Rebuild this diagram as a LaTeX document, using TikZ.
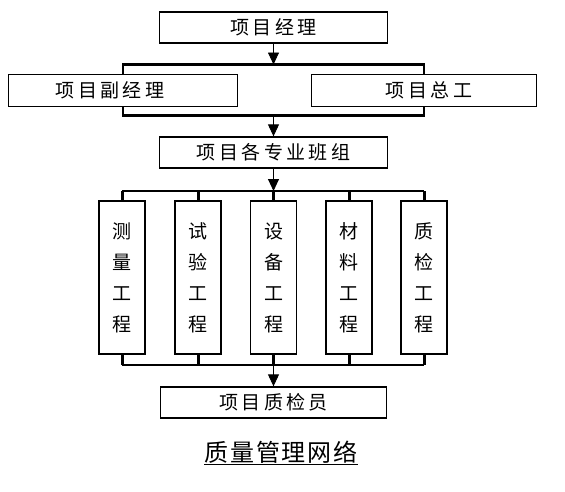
\documentclass[tikz,border=0pt]{standalone}
\usepackage{fontspec}
\newfontfamily\cjk[LetterSpace=18]{Noto Sans CJK SC}
\newfontfamily\cjkv{Noto Sans CJK SC}
\newfontfamily\cjkt[LetterSpace=8]{Noto Sans CJK SC}
\usetikzlibrary{arrows.meta,backgrounds}
\begin{document}
\begin{tikzpicture}[x=1pt,y=-1pt,
  box/.style={draw,line width=1.3pt,fill=white,inner sep=0pt,font=\cjk\fontsize{19}{22}\selectfont},
  vbox/.style={draw,line width=1.3pt,fill=white,inner sep=0pt,minimum width=46pt,minimum height=153pt,align=center,font=\cjkv\fontsize{19}{31}\selectfont},
  bar/.style={line width=2.2pt},
  stub/.style={line width=3pt},
  arr/.style={line width=0.9pt,-{Triangle[width=11pt,length=12pt]}}]
\useasboundingbox (0,0) rectangle (565,491);

\node[box,minimum width=228pt,minimum height=31pt] (pm) at (273.5,27.5) {项目经理};
\node[box,minimum width=229pt,minimum height=32pt] (dpm) at (123,90.5) {\hspace*{-26pt}项目副经理};
\node[box,minimum width=225pt,minimum height=32pt] (ce) at (424,90.5) {\hspace*{10pt}项目总工};
\node[box,minimum width=228pt,minimum height=31pt] (team) at (273.5,152.5) {项目各专业班组};

\node[vbox] (m1) at (122,277.5) {测\\量\\工\\程};
\node[vbox] (m2) at (198,277.5) {试\\验\\工\\程};
\node[vbox] (m3) at (273.5,277.5) {设\\备\\工\\程};
\node[vbox] (m4) at (349,277.5) {材\\料\\工\\程};
\node[vbox] (m5) at (424,277.5) {质\\检\\工\\程};

\node[box,minimum width=226pt,minimum height=31pt] (qi) at (273.5,402.5) {项目质检员};
\node[font=\cjkt\fontsize{24}{28}\selectfont,inner sep=0pt] (title) at (281,453) {\underline{质量管理网络}};

\coordinate (t1) at (273.5,64.5);
\coordinate (b1) at (273.5,115.5);
\coordinate (t2) at (273.5,191);
\coordinate (b2) at (273.5,365);

\begin{scope}[on background layer]
  \draw[bar] (dpm.center |- t1) rectangle (ce.center |- b1);
  \draw[bar] (m1.center |- t2) -- (m5.center |- t2);
  \draw[bar] (m1.center |- b2) -- (m5.center |- b2);
\end{scope}
\foreach \i in {1,...,5}{
  \draw[stub] (m\i.center |- t2) -- (m\i.north);
  \draw[stub] (m\i.south) -- (m\i.center |- b2);
}

\draw[arr] (pm.south) -- (t1);
\draw[arr] (b1) -- (team.north);
\draw[arr] (team.south) -- (t2);
\draw[arr] (b2) -- (qi.north);
\end{tikzpicture}
\end{document}
